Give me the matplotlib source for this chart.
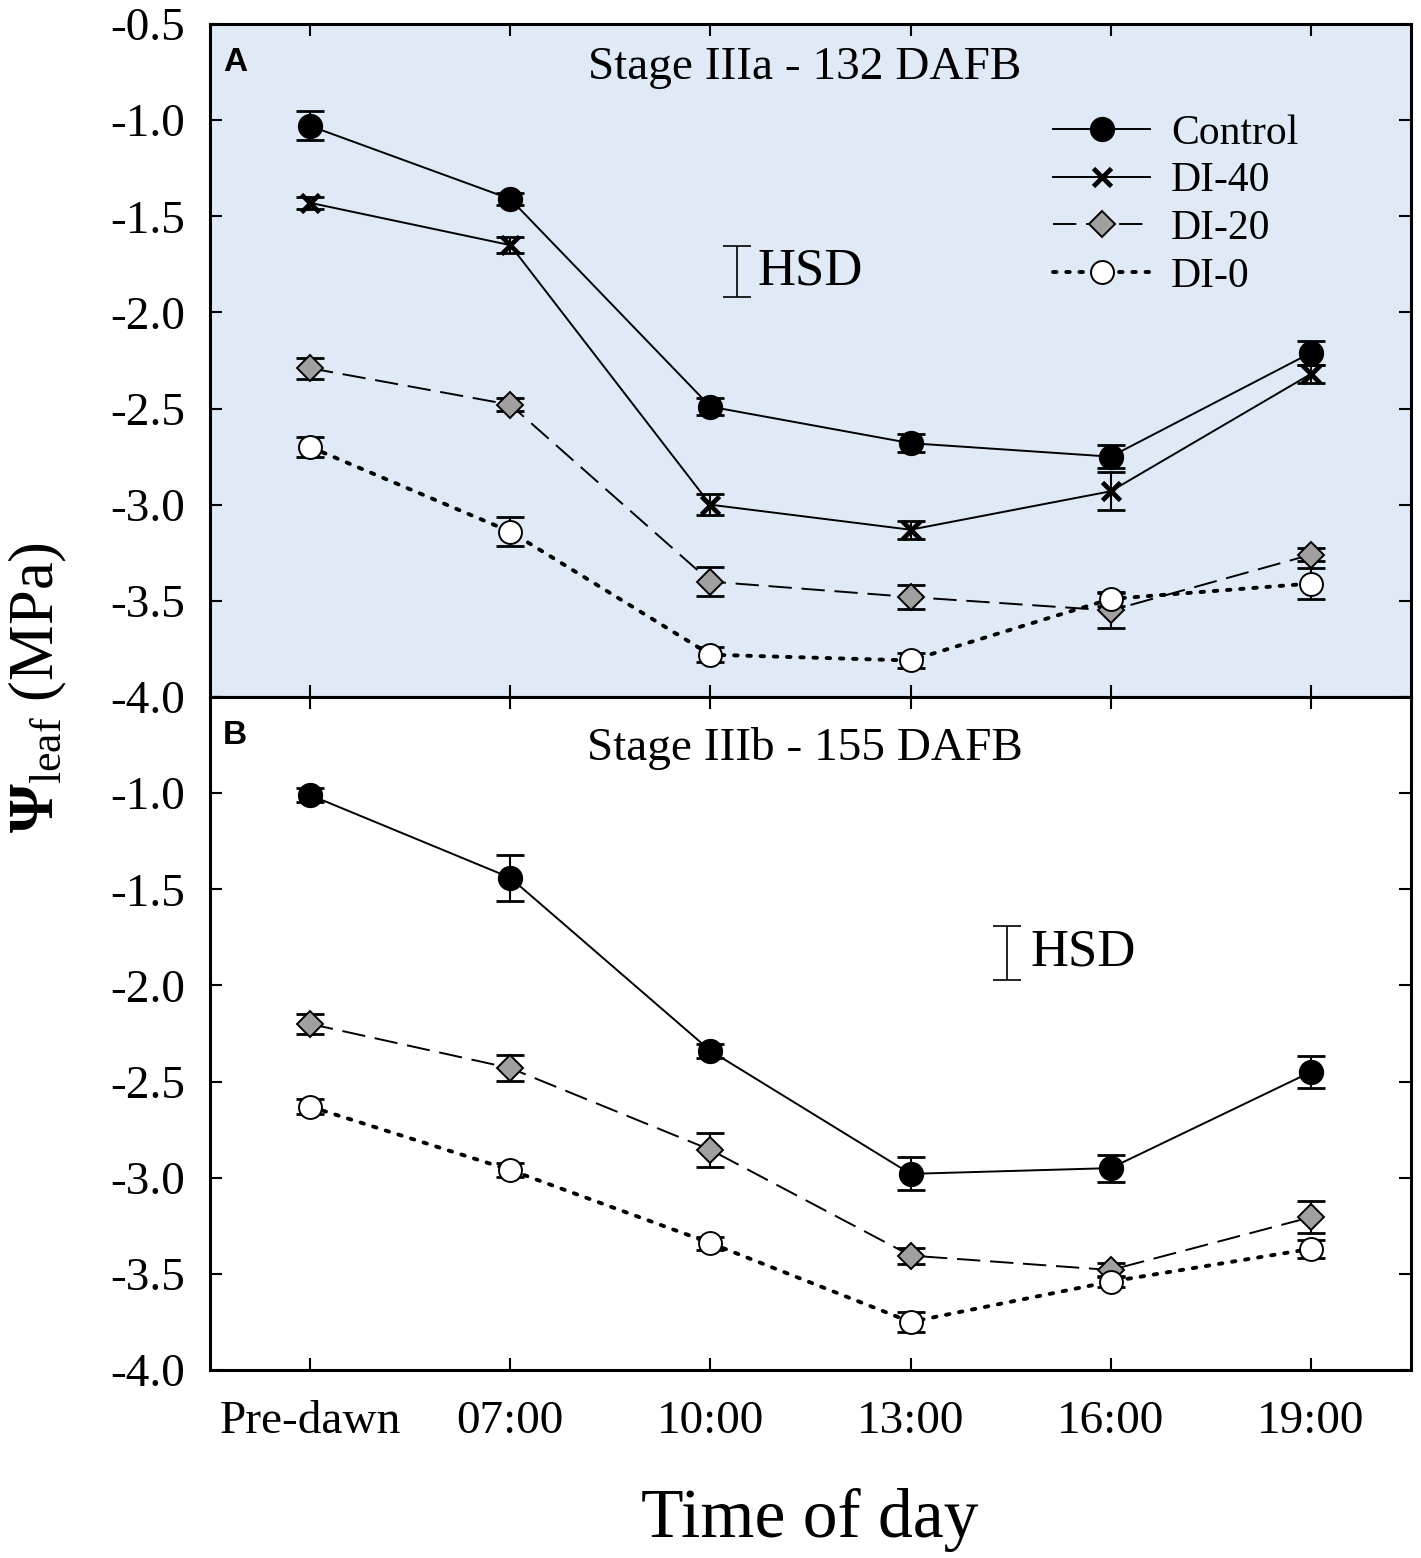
import numpy as np
import matplotlib
matplotlib.use('Agg')
import matplotlib.pyplot as plt

plt.rcParams['font.family'] = ['Liberation Serif', 'DejaVu Serif']
plt.rcParams['mathtext.fontset'] = 'custom'
plt.rcParams['mathtext.rm'] = 'Liberation Serif'
plt.rcParams['mathtext.it'] = 'Liberation Serif:italic'
plt.rcParams['mathtext.bf'] = 'Liberation Serif:bold'

# Data
times = ['Pre-dawn', '07:00', '10:00', '13:00', '16:00', '19:00']

# Panel A - Stage IIIa, 132 DAFB
control_a = [-1.03, -1.41, -2.49, -2.68, -2.75, -2.21]
control_a_err = [0.075, 0.03, 0.045, 0.047, 0.06, 0.063]
di40_a = [-1.43, -1.65, -3.00, -3.13, -2.93, -2.32]
di40_a_err = [0.03, 0.04, 0.055, 0.047, 0.098, 0.047]
di20_a = [-2.29, -2.48, -3.40, -3.48, -3.55, -3.26]
di20_a_err = [0.055, 0.035, 0.075, 0.064, 0.09, 0.034]
di0_a = [-2.70, -3.14, -3.78, -3.81, -3.49, -3.41]
di0_a_err = [0.05, 0.075, 0.04, 0.04, 0.035, 0.08]
hsd_a = 0.265

# Panel B - Stage IIIb, 155 DAFB
control_b = [-1.01, -1.44, -2.34, -2.98, -2.95, -2.45]
control_b_err = [0.038, 0.12, 0.035, 0.086, 0.07, 0.084]
di20_b = [-2.20, -2.43, -2.855, -3.405, -3.48, -3.205]
di20_b_err = [0.05, 0.066, 0.088, 0.042, 0.035, 0.082]
di0_b = [-2.63, -2.96, -3.34, -3.75, -3.54, -3.37]
di0_b_err = [0.038, 0.034, 0.034, 0.05, 0.03, 0.045]
hsd_b = 0.28

yticks = [-0.5, -1.0, -1.5, -2.0, -2.5, -3.0, -3.5, -4.0]

styles = {
    'Control': dict(color='black', lw=1.4, ls='-', marker='o', ms=17,
                    mfc='black', mec='black', mew=1.2),
    'DI-40': dict(color='black', lw=1.4, ls='-', marker='x', ms=13.5,
                  mec='black', mew=3.4),
    'DI-20': dict(color='black', lw=1.4, ls=(0, (12, 5)), marker='D', ms=13,
                  mfc='#a0a0a0', mec='black', mew=1.4),
    'DI-0': dict(color='black', lw=2.8, ls=(0, (0.9, 2.5)), marker='o', ms=16.5,
                 mfc='white', mec='black', mew=1.4, dash_capstyle='round'),
}

fig = plt.figure(figsize=(14.21, 15.58), dpi=100)
W, H = 1421, 1558
ax1 = fig.add_axes([210 / W, 1 - 697 / H, 1201 / W, 673 / H])
ax2 = fig.add_axes([210 / W, 1 - 1370 / H, 1201 / W, 673 / H])
ax1.set_facecolor('#dfeaf6')

x = np.arange(len(times))


def draw(ax, series):
    handles = []
    for name, vals, errs in series:
        ax.errorbar(x, vals, yerr=errs, fmt='none', ecolor='black',
                    elinewidth=1.5, capsize=10, capthick=2.0, zorder=2)
        h, = ax.plot(x, vals, label=name, zorder=3, **styles[name])
        handles.append(h)
    return handles


handles = draw(ax1, [('Control', control_a, control_a_err),
                     ('DI-40', di40_a, di40_a_err),
                     ('DI-20', di20_a, di20_a_err),
                     ('DI-0', di0_a, di0_a_err)])
draw(ax2, [('Control', control_b, control_b_err),
           ('DI-20', di20_b, di20_b_err),
           ('DI-0', di0_b, di0_b_err)])

for ax in (ax1, ax2):
    ax.set_xlim(-0.5, 5.5)
    ax.set_ylim(-4.0, -0.5)
    ax.set_xticks(x)
    ax.set_yticks(yticks)
    ax.set_yticklabels(['%.1f' % v for v in yticks])
    ax.tick_params(direction='in', length=8.6, width=1.5, top=True,
                   right=True, labelsize=34)
    ax.tick_params(axis='y', pad=18)
    for s in ax.spines.values():
        s.set_linewidth(2.2)

ax1.tick_params(labelbottom=False)
ax2.set_xticklabels(times)
ax2.tick_params(axis='x', pad=22)
ax2.get_yticklabels()[0].set_visible(False)

# HSD bars
ax1.errorbar([2.135], [-1.785], yerr=[hsd_a / 2], fmt='none', ecolor='black',
             elinewidth=1.2, capsize=10, capthick=1.2)
ax1.text(2.235, -1.785, 'HSD', fontsize=38, ha='left', va='center')
ax2.errorbar([3.48], [-1.83], yerr=[hsd_b / 2], fmt='none', ecolor='black',
             elinewidth=1.2, capsize=10, capthick=1.2)
ax2.text(3.60, -1.83, 'HSD', fontsize=38, ha='left', va='center')

# Titles inside panels
ax1.text(0.495, 0.935, 'Stage IIIa - 132 DAFB', transform=ax1.transAxes,
         fontsize=34, ha='center', va='center')
ax2.text(0.495, 0.924, 'Stage IIIb - 155 DAFB', transform=ax2.transAxes,
         fontsize=34, ha='center', va='center')
ax1.text(0.011, 0.966, 'A', transform=ax1.transAxes, fontsize=24,
         fontweight='bold', family='Liberation Sans', ha='left', va='top')
ax2.text(0.011, 0.966, 'B', transform=ax2.transAxes, fontsize=24,
         fontweight='bold', family='Liberation Sans', ha='left', va='top')

ax1.legend(handles=handles, loc='upper left', bbox_to_anchor=(0.702, 0.866),
           frameon=False, fontsize=30, handlelength=2.33, handletextpad=0.5,
           labelspacing=0.22, borderpad=0, borderaxespad=0, numpoints=1)

fig.text(38 / W, 1 - 688 / H, r'$\mathbf{\Psi}_{\mathrm{leaf}}$ (MPa)',
         fontsize=45, rotation=90, ha='center', va='center')
fig.text(810 / W, 1 - 1520 / H, 'Time of day', fontsize=50,
         ha='center', va='center')

fig.savefig('out.png', dpi=100)
